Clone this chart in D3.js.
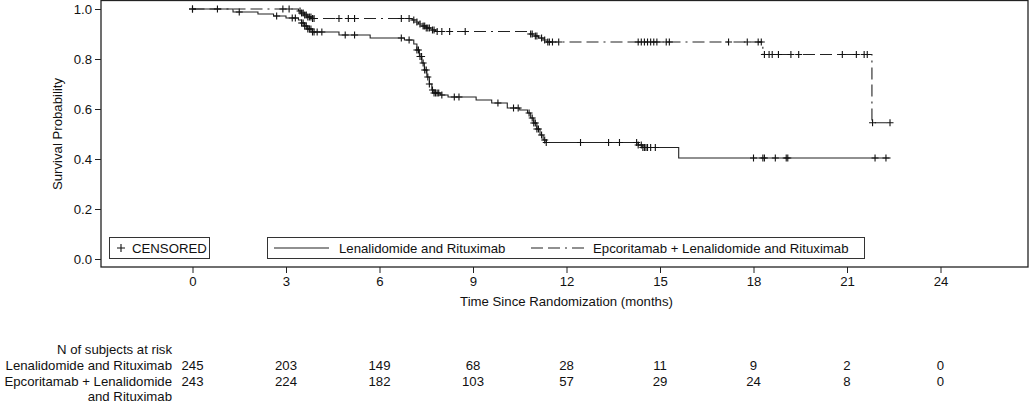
<!DOCTYPE html>
<html>
<head>
<meta charset="utf-8">
<script src="https://cdn.jsdelivr.net/npm/d3@7"></script>
<style>
  body { margin: 0; background: #fff; }
  text { font-family: 'Liberation Sans', Arial, sans-serif; fill: #111; }
</style>
</head>
<body>
<div id="chart"></div>
<script>
// step points [months, survival]
const lenSteps = [
  [0, 1], [1.3, 0.988], [2.1, 0.98], [2.6, 0.972], [3.0, 0.964], [3.4, 0.956],
  [3.5, 0.944], [3.6, 0.932], [3.7, 0.92], [3.85, 0.908], [4.7, 0.896], [5.7, 0.884],
  [6.8, 0.876], [7.1, 0.86], [7.2, 0.836], [7.28, 0.81], [7.36, 0.784], [7.44, 0.756],
  [7.52, 0.728], [7.6, 0.7], [7.68, 0.676], [7.75, 0.664], [7.95, 0.656], [8.2, 0.648],
  [9.1, 0.636], [9.6, 0.624], [10.1, 0.604], [10.5, 0.596], [10.75, 0.584], [10.85, 0.564],
  [10.95, 0.544], [11.05, 0.52], [11.15, 0.496], [11.25, 0.476], [11.35, 0.466],
  [14.3, 0.456], [14.45, 0.446], [15.6, 0.404]
]
const lenEnd = 22.4
const lenCensor = [0, 1.5, 2.7, 3.2, 3.3, 3.5, 3.55, 3.6, 3.65, 3.7, 3.75, 3.8, 3.85, 3.9,
  4.0, 4.15, 4.9, 5.2, 6.7, 6.95, 7.2, 7.25, 7.3, 7.35, 7.4, 7.45, 7.5, 7.55, 7.6, 7.7,
  7.75, 7.8, 7.85, 7.9, 8.0, 8.4, 8.55, 9.8, 10.3, 10.45, 10.8, 10.9, 10.95, 11.0, 11.05,
  11.1, 11.2, 11.3, 11.35, 12.45, 13.35, 13.7, 14.25, 14.3, 14.4, 14.45, 14.5, 14.55,
  14.6, 14.7, 14.85, 18.0, 18.3, 18.35, 18.7, 19.05, 19.1, 21.9, 22.25]

const epcSteps = [
  [0, 1], [3.4, 0.992], [3.5, 0.984], [3.6, 0.976], [3.7, 0.968], [3.85, 0.962],
  [7.05, 0.956], [7.15, 0.948], [7.25, 0.94], [7.35, 0.932], [7.5, 0.924], [7.65, 0.916],
  [7.8, 0.91], [10.85, 0.9], [11.0, 0.892], [11.1, 0.884], [11.25, 0.876], [11.35, 0.868],
  [18.3, 0.818], [21.8, 0.545]
]
const epcEnd = 22.38
const epcCensor = [0, 0.8, 2.9, 3.1, 3.45, 3.5, 3.55, 3.6, 3.65, 3.7, 3.75, 3.8, 3.85, 3.9,
  4.7, 5.0, 5.2, 6.7, 6.95, 7.1, 7.2, 7.3, 7.4, 7.45, 7.5, 7.55, 7.6, 7.7, 7.75, 7.85,
  8.0, 8.25, 8.75, 10.85, 10.9, 11.0, 11.05, 11.2, 11.3, 11.4, 11.45, 11.55, 11.75,
  14.3, 14.4, 14.5, 14.6, 14.7, 14.8, 14.9, 15.2, 15.3, 17.2, 17.8, 18.15, 18.25, 18.35,
  18.5, 18.6, 18.8, 19.2, 19.45, 20.85, 21.3, 21.55, 21.65, 21.82, 22.38]

const xTicks = [0, 3, 6, 9, 12, 15, 18, 21, 24]
const yTicks = [0, 0.2, 0.4, 0.6, 0.8, 1.0]

const groupNames = ['Lenalidomide and Rituximab', 'Epcoritamab + Lenalidomide and Rituximab']
const lenAtRisk = [245, 203, 149, 68, 28, 11, 9, 2, 0]
const epcAtRisk = [243, 224, 182, 103, 57, 29, 24, 8, 0]

const width = 1030
const height = 405
const frame = { left: 101, right: 1028, top: 0.5, bottom: 267 }
const fs = 13.2
const dashDot = '12 5 12 5 2 5'

const svg = d3
  .select('#chart')
  .append('svg')
  .attr('width', width)
  .attr('height', height)

const x = d3.scaleLinear().domain([0, 24]).range([192.5, 940.5])
const y = d3.scaleLinear().domain([0, 1]).range([259, 9])

// frame
svg.append('rect')
  .attr('x', frame.left)
  .attr('y', frame.top)
  .attr('width', frame.right - frame.left)
  .attr('height', frame.bottom - frame.top)
  .attr('fill', 'none')
  .attr('stroke', '#222')
  .attr('stroke-width', 1.3)

// y axis
const yAxis = svg.append('g')
  .attr('transform', `translate(${frame.left},0)`)
  .call(d3.axisLeft(y).tickValues(yTicks).tickFormat(d3.format('.1f')).tickSize(6).tickPadding(3))
yAxis.select('.domain').remove()
yAxis.selectAll('line').attr('stroke', '#222')
yAxis.selectAll('text').attr('font-size', fs).attr('font-family', null)

// x axis
const xAxis = svg.append('g')
  .attr('transform', `translate(0,${frame.bottom})`)
  .call(d3.axisBottom(x).tickValues(xTicks).tickSize(6).tickPadding(4))
xAxis.select('.domain').remove()
xAxis.selectAll('line').attr('stroke', '#222')
xAxis.selectAll('text').attr('font-size', fs).attr('font-family', null)

svg.append('text')
  .text('Survival Probability')
  .attr('transform', `translate(62,${y(0.5)}) rotate(-90)`)
  .attr('text-anchor', 'middle')
  .attr('font-size', fs)

svg.append('text')
  .text('Time Since Randomization (months)')
  .attr('x', x(12))
  .attr('y', 306)
  .attr('text-anchor', 'middle')
  .attr('font-size', fs)

// step function lookup for censor marks
function survAt(steps, t) {
  let s = steps[0][1]
  steps.forEach(function(d) { if (d[0] <= t) s = d[1] })
  return s
}

const line = d3.line()
  .x(d => x(d[0]))
  .y(d => y(d[1]))
  .curve(d3.curveStepAfter)

const arms = [
  { steps: lenSteps, end: lenEnd, censor: lenCensor, dash: null },
  { steps: epcSteps, end: epcEnd, censor: epcCensor, dash: dashDot }
]

arms.forEach(function(arm) {
  const pts = arm.steps.concat([[arm.end, arm.steps[arm.steps.length - 1][1]]])
  svg.append('path')
    .datum(pts)
    .attr('d', line)
    .attr('fill', 'none')
    .attr('stroke', '#222')
    .attr('stroke-width', 1.1)
    .attr('stroke-dasharray', arm.dash)

  svg.append('g')
    .selectAll('path')
    .data(arm.censor)
    .enter()
    .append('path')
    .attr('d', 'M-3.5,0H3.5M0,-3.5V3.5')
    .attr('stroke', '#111')
    .attr('stroke-width', 1.1)
    .attr('transform', d => `translate(${x(d)},${y(survAt(arm.steps, d))})`)
})

// legends
const leg = svg.append('g').attr('font-size', fs)
leg.append('rect')
  .attr('x', 109.5).attr('y', 237.5).attr('width', 100).attr('height', 21)
  .attr('fill', 'none').attr('stroke', '#333')
leg.append('path')
  .attr('d', 'M117,248H125M121,244V252')
  .attr('stroke', '#111').attr('stroke-width', 1.1)
leg.append('text').text('CENSORED').attr('x', 132).attr('y', 252.5)

leg.append('rect')
  .attr('x', 267.5).attr('y', 237.5).attr('width', 597).attr('height', 21)
  .attr('fill', 'none').attr('stroke', '#333')
leg.append('line')
  .attr('x1', 274).attr('x2', 329).attr('y1', 248).attr('y2', 248)
  .attr('stroke', '#222').attr('stroke-width', 1.1)
leg.append('text').text(groupNames[0]).attr('x', 339).attr('y', 252.5)
leg.append('line')
  .attr('x1', 531).attr('x2', 587).attr('y1', 248).attr('y2', 248)
  .attr('stroke', '#222').attr('stroke-width', 1.1)
  .attr('stroke-dasharray', dashDot)
leg.append('text').text(groupNames[1]).attr('x', 593).attr('y', 252.5)

// number at risk table
const risk = svg.append('g').attr('font-size', fs)
risk.append('text').text('N of subjects at risk')
  .attr('x', 172).attr('y', 354).attr('text-anchor', 'end')
risk.append('text').text(groupNames[0])
  .attr('x', 172).attr('y', 370).attr('text-anchor', 'end')
risk.append('text').text('Epcoritamab + Lenalidomide')
  .attr('x', 172).attr('y', 386).attr('text-anchor', 'end')
risk.append('text').text('and Rituximab')
  .attr('x', 172).attr('y', 401).attr('text-anchor', 'end')

risk.selectAll('.len')
  .data(lenAtRisk)
  .enter()
  .append('text')
  .attr('class', 'len')
  .text(d => d)
  .attr('x', (d, i) => x(xTicks[i]))
  .attr('y', 370)
  .attr('text-anchor', 'middle')

risk.selectAll('.epc')
  .data(epcAtRisk)
  .enter()
  .append('text')
  .attr('class', 'epc')
  .text(d => d)
  .attr('x', (d, i) => x(xTicks[i]))
  .attr('y', 386)
  .attr('text-anchor', 'middle')
</script>
</body>
</html>
